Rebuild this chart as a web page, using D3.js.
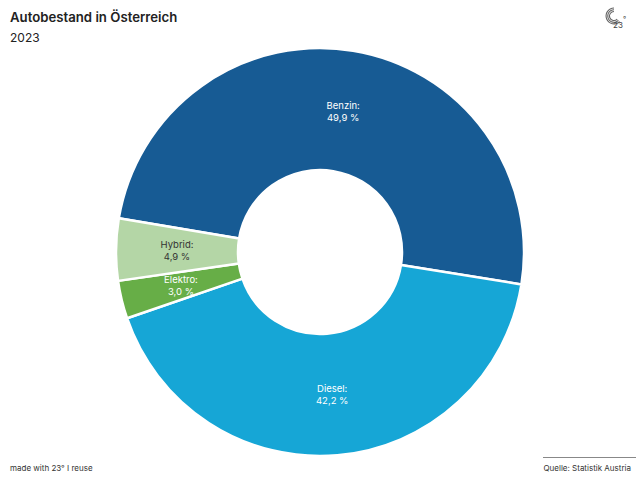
<!DOCTYPE html>
<html><head><meta charset="utf-8">
<script src="https://cdn.jsdelivr.net/npm/d3@7"></script>
<style>body{margin:0;background:#fff;}svg{display:block;font-family:Inter,"Open Sans",sans-serif;}</style>
</head><body>
<script>
const categories = ["Benzin", "Diesel", "Elektro", "Hybrid"];
const values = [49.9, 42.2, 3.0, 4.9];
const colors = ["#175b94", "#16a6d6", "#67ae47", "#b4d6a6"];
const labelColors = ["#ffffff", "#ffffff", "#ffffff", "#333333"];
const title = "Autobestand in Österreich";
const subtitle = "2023";
const source = "Quelle: Statistik Austria";
const credit = "made with 23° I reuse";

const W = 640, H = 480;
const svg = d3.select("body").append("svg").attr("width", W).attr("height", H);

svg.append("text").attr("x", 10).attr("y", 22).attr("font-size", 13.2).attr("font-weight", 600)
  .attr("fill", "#222").text(title);
svg.append("text").attr("x", 10).attr("y", 42).attr("font-size", 12).attr("fill", "#222").text(subtitle);

// logo
const logo = svg.append("g").attr("transform", "translate(614,16)");
[8.5, 6.8, 5.1].forEach((r) => {
  logo.append("path").attr("d", d3.arc()({innerRadius: r - 1.1, outerRadius: r, startAngle: Math.PI * 0.75, endAngle: Math.PI * 2.0}))
    .attr("fill", "#666");
});
logo.append("text").attr("x", -1).attr("y", 12).attr("font-size", 8).attr("fill", "#444").text("23");
logo.append("text").attr("x", 9).attr("y", 6).attr("font-size", 7).attr("fill", "#444").text("°");

const cx = 320, cy = 252, outerR = 204, innerR = 82;
const start = -80.5 * Math.PI / 180;
const pie = d3.pie().sort(null).value(d => d.v).startAngle(start).endAngle(start + 2 * Math.PI);
const data = categories.map((c, i) => ({c, v: values[i], i}));
const arcs = pie(data);
const arc = d3.arc().innerRadius(innerR).outerRadius(outerR);
const g = svg.append("g").attr("transform", `translate(${cx},${cy})`);
g.selectAll("path").data(arcs).join("path")
  .attr("d", arc).attr("fill", d => colors[d.data.i])
  .attr("stroke", "#fff").attr("stroke-width", 2.5).attr("stroke-linejoin", "round");

const fmt = v => v.toFixed(1).replace(".", ",") + " %";
const lbl = g.selectAll("g.lbl").data(arcs).join("g").attr("class", "lbl")
  .attr("transform", d => `translate(${arc.centroid(d)})`);
lbl.append("text").attr("text-anchor", "middle").attr("y", -2).attr("font-size", 9.5)
  .attr("fill", d => labelColors[d.data.i]).text(d => d.data.c + ":");
lbl.append("text").attr("text-anchor", "middle").attr("y", 10).attr("font-size", 9.5)
  .attr("fill", d => labelColors[d.data.i]).text(d => fmt(d.data.v));

svg.append("text").attr("x", 10).attr("y", 471).attr("font-size", 8).attr("fill", "#333").text(credit);
svg.append("line").attr("x1", 543).attr("x2", 636).attr("y1", 457.5).attr("y2", 457.5)
  .attr("stroke", "#888").attr("stroke-width", 1.2);
svg.append("text").attr("x", 631).attr("y", 471).attr("text-anchor", "end").attr("font-size", 8)
  .attr("fill", "#333").text(source);
</script>
</body></html>
